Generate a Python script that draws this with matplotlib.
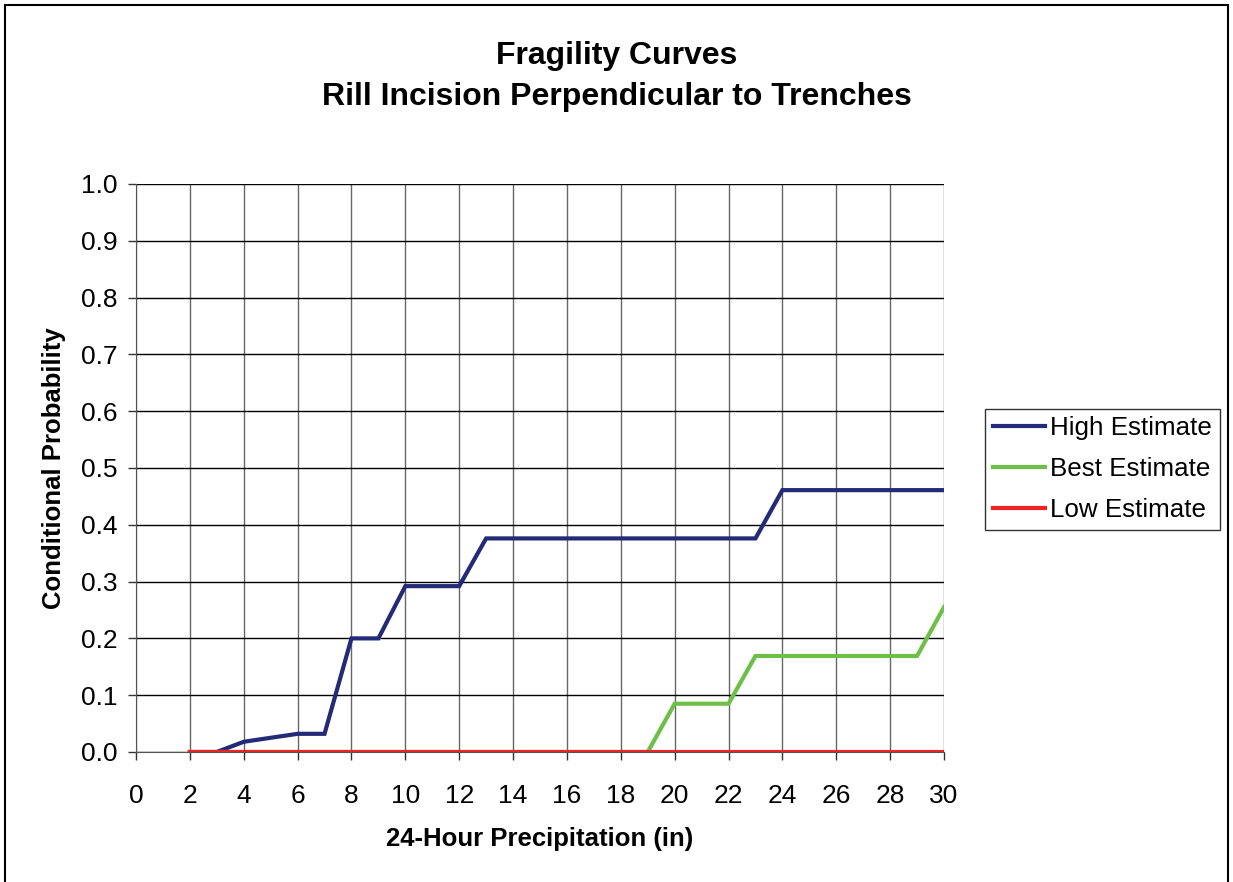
import numpy as np
import matplotlib.pyplot as plt
from matplotlib.patches import Rectangle

plt.rcParams['font.family'] = ['Liberation Sans', 'DejaVu Sans']

x = list(range(2, 31))
high = [0, 0, 0.018, 0.025, 0.032, 0.032, 0.2, 0.2, 0.292, 0.292, 0.292,
        0.376, 0.376, 0.376, 0.376, 0.376, 0.376, 0.376, 0.376, 0.376, 0.376, 0.376,
        0.461, 0.461, 0.461, 0.461, 0.461, 0.461, 0.461]
best = [0]*18 + [0.085, 0.085, 0.085, 0.169, 0.169, 0.169, 0.169, 0.169, 0.169, 0.169, 0.255]
low = [0]*29

fig = plt.figure(figsize=(12.33, 8.82), dpi=100)
ax = fig.add_axes([0.1103, 0.1474, 0.6553, 0.644])

ax.plot(x, high, color='#232a78', lw=3, label='High Estimate', solid_joinstyle='miter')
ax.plot(x, best, color='#6dbf47', lw=3, label='Best Estimate', solid_joinstyle='miter')
ax.plot(x, low, color='#ee2424', lw=3, label='Low Estimate')

ax.set_xlim(0, 30)
ax.set_ylim(0, 1.0)
ax.set_xticks(np.arange(0, 31, 2))
ax.set_yticks(np.arange(0, 1.01, 0.1))
ax.set_yticklabels([f'{v:.1f}' for v in np.arange(0, 1.01, 0.1)])
ax.tick_params(labelsize=19, length=6, width=1, direction='out', color='#333333')
ax.tick_params(axis='x', pad=17)
ax.tick_params(axis='y', pad=7)
ax.xaxis.grid(True, color='#666666', lw=1)
ax.yaxis.grid(True, color='black', lw=1)
ax.set_axisbelow(True)
for s in ['top', 'right']:
    ax.spines[s].set_visible(False)
ax.spines['left'].set_color('#555555')
ax.spines['bottom'].set_color('#555555')

ax.set_xlabel('24-Hour Precipitation (in)', fontsize=18.5, fontweight='bold', labelpad=14)
ax.set_ylabel('Conditional Probability', fontsize=18.5, fontweight='bold', labelpad=11)

fig.text(0.5, 0.937, 'Fragility Curves', ha='center', va='center', fontsize=23, fontweight='bold')
fig.text(0.5, 0.890, 'Rill Incision Perpendicular to Trenches', ha='center', va='center',
         fontsize=23, fontweight='bold')

leg = fig.legend(loc='center left', bbox_to_anchor=(0.799, 0.468), fontsize=18.7,
                 frameon=True, fancybox=False, edgecolor='black', handlelength=2.0,
                 handletextpad=0.2, borderpad=0.3, labelspacing=0.65, borderaxespad=0)
leg.get_frame().set_linewidth(1)

fig.patches.append(Rectangle((0.004, -0.01), 0.992, 1.004, transform=fig.transFigure,
                             fill=False, edgecolor='black', lw=1.5))

fig.savefig('out.png', dpi=100)
